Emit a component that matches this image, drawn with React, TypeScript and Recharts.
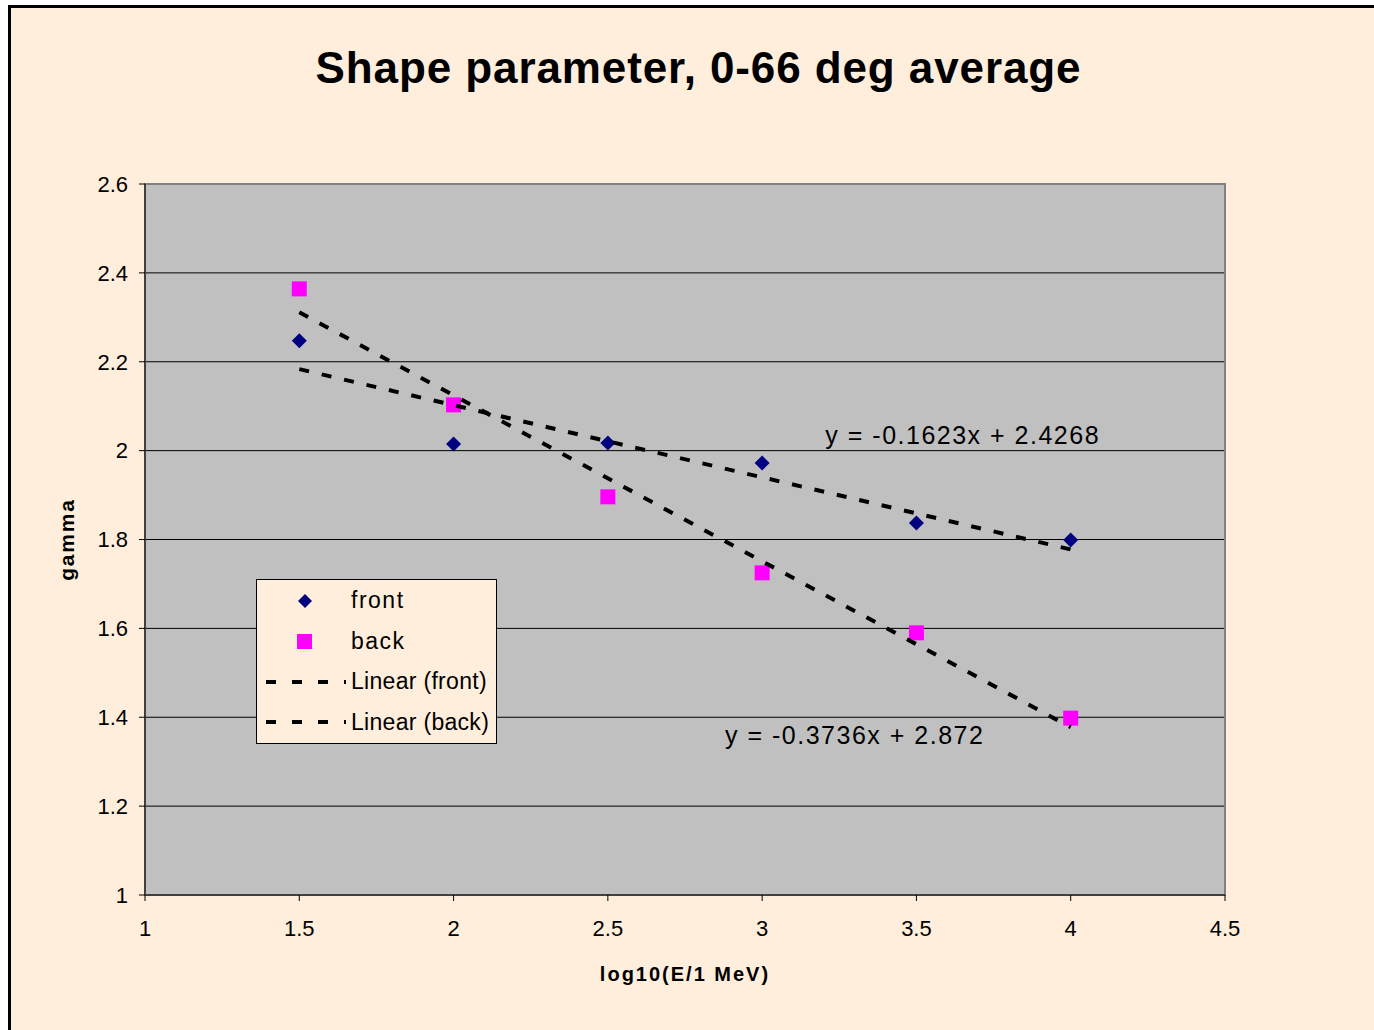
import React from "react";
import {
  ScatterChart,
  Scatter,
  XAxis,
  YAxis,
  CartesianGrid,
  ReferenceArea,
  ReferenceDot,
  Label,
} from "recharts";

// energy bins, log10(E / 1 MeV)
const energies = [1.5, 2, 2.5, 3, 3.5, 4];
const frontGamma = [2.247, 2.015, 2.017, 1.972, 1.837, 1.799];
const backGamma = [2.364, 2.103, 1.896, 1.725, 1.59, 1.398];

// linear trend end points (as drawn by the spreadsheet)
const trendX = [1.5, 4];
const frontTrendY = [2.1834, 1.7776];
const backTrendY = [2.3112, 1.3776];

const xTicks = [1, 1.5, 2, 2.5, 3, 3.5, 4, 4.5];
const yTicks = [1, 1.2, 1.4, 1.6, 1.8, 2, 2.2, 2.4, 2.6];

const frontEq = "y = -0.1623x + 2.4268";
const backEq = "y = -0.3736x + 2.872";

const frontData = energies.map((x, i) => ({ x, y: frontGamma[i] }));
const backData = energies.map((x, i) => ({ x, y: backGamma[i] }));
const frontTrend = trendX.map((x, i) => ({ x, y: frontTrendY[i] }));
const backTrend = trendX.map((x, i) => ({ x, y: backTrendY[i] }));

const FONT = "'Liberation Sans', Arial, sans-serif";
const BG = "#FEEEDB";
const NAVY = "#000080";
const MAGENTA = "#FF00FF";

const Diamond = (props: any) => {
  const { cx, cy } = props;
  if (cx == null || cy == null) return null;
  const r = 7.5;
  return (
    <polygon
      points={`${cx},${cy - r} ${cx + r},${cy} ${cx},${cy + r} ${cx - r},${cy}`}
      fill={NAVY}
    />
  );
};

const Square = (props: any) => {
  const { cx, cy } = props;
  if (cx == null || cy == null) return null;
  return <rect x={cx - 7.5} y={cy - 7.5} width={15} height={15} fill={MAGENTA} />;
};

const NoShape = () => null;

const trendLine = {
  stroke: "#000",
  strokeWidth: 4,
  strokeDasharray: "10 13",
};

export default function App() {
  return (
    <div
      style={{
        position: "absolute",
        left: 0,
        top: 0,
        width: 1374,
        height: 1030,
        overflow: "hidden",
        background: "#fff",
        fontFamily: FONT,
      }}
    >
      {/* chart frame */}
      <div
        style={{
          position: "absolute",
          left: 8,
          top: 5,
          width: 1400,
          height: 1100,
          border: "3px solid #000",
          background: BG,
        }}
      />

      <div
        style={{
          position: "absolute",
          left: 0,
          top: 43,
          width: 1397,
          textAlign: "center",
          fontSize: 44,
          fontWeight: "bold",
          letterSpacing: 0.9,
          lineHeight: "50px",
          color: "#000",
        }}
      >
        Shape parameter, 0-66 deg average
      </div>

      <div style={{ position: "absolute", left: 0, top: 0 }}>
        <ScatterChart
          width={1374}
          height={1030}
          margin={{ top: 184, right: 149, bottom: 45, left: 60 }}
        >
          <CartesianGrid
            vertical={false}
            stroke="#000"
            strokeWidth={1}
            fill="#C0C0C0"
            fillOpacity={1}
          />
          <ReferenceArea
            x1={1}
            x2={4.5}
            y1={1}
            y2={2.6}
            fill="none"
            stroke="#808080"
            strokeWidth={2}
          />
          <XAxis
            type="number"
            dataKey="x"
            domain={[1, 4.5]}
            ticks={xTicks}
            height={90}
            axisLine={{ stroke: "#404040", strokeWidth: 2 }}
            tickLine={{ stroke: "#000" }}
            tickSize={6}
            tickMargin={19}
            tick={{ fill: "#000", fontSize: 22, fontFamily: FONT }}
            allowDataOverflow
          >
            <Label
              value="log10(E/1 MeV)"
              position="insideBottom"
              offset={4}
              style={{
                fontSize: 20,
                fontWeight: "bold",
                fontFamily: FONT,
                fill: "#000",
                letterSpacing: 2,
              }}
            />
          </XAxis>
          <YAxis
            type="number"
            dataKey="y"
            domain={[1, 2.6]}
            ticks={yTicks}
            width={85}
            axisLine={{ stroke: "#404040", strokeWidth: 2 }}
            tickLine={{ stroke: "#000" }}
            tickSize={6}
            tickMargin={11}
            tick={{ fill: "#000", fontSize: 22, fontFamily: FONT }}
            allowDataOverflow
          >
            <Label
              value="gamma"
              angle={-90}
              position="insideLeft"
              offset={7}
              style={{
                textAnchor: "middle",
                fontSize: 21,
                fontWeight: "bold",
                fontFamily: FONT,
                fill: "#000",
                letterSpacing: 1.8,
              }}
            />
          </YAxis>

          <Scatter
            name="front"
            data={frontData}
            fill={NAVY}
            shape={Diamond}
            isAnimationActive={false}
          />
          <Scatter
            name="back"
            data={backData}
            fill={MAGENTA}
            shape={Square}
            isAnimationActive={false}
          />
          <Scatter
            name="Linear (front)"
            data={frontTrend}
            line={trendLine}
            shape={NoShape}
            isAnimationActive={false}
          />
          <Scatter
            name="Linear (back)"
            data={backTrend}
            line={trendLine}
            shape={NoShape}
            isAnimationActive={false}
          />

          <ReferenceDot
            x={3.65}
            y={2.035}
            r={0}
            fill="none"
            stroke="none"
            label={{
              value: frontEq,
              position: "center",
              fill: "#000",
              fontSize: 25,
              fontFamily: FONT,
              style: { letterSpacing: 1.5 },
            }}
          />
          <ReferenceDot
            x={3.3}
            y={1.36}
            r={0}
            fill="none"
            stroke="none"
            label={{
              value: backEq,
              position: "center",
              fill: "#000",
              fontSize: 25,
              fontFamily: FONT,
              style: { letterSpacing: 1.5 },
            }}
          />
        </ScatterChart>
      </div>

      {/* legend */}
      <div
        style={{
          position: "absolute",
          left: 256,
          top: 579,
          width: 239,
          height: 163,
          border: "1px solid #000",
          background: BG,
          fontSize: 23,
          color: "#000",
        }}
      >
        <svg
          width={239}
          height={163}
          style={{ position: "absolute", left: 0, top: 0 }}
        >
          <polygon points="48,14 55,21 48,28 41,21" fill={NAVY} />
          <rect x={40} y={54} width={15} height={15} fill={MAGENTA} />
          <line x1={9} y1={102} x2={89} y2={102} stroke="#000" strokeWidth={4} strokeDasharray="10 16" />
          <line x1={9} y1={142} x2={89} y2={142} stroke="#000" strokeWidth={4} strokeDasharray="10 16" />
        </svg>
        {["front", "back", "Linear (front)", "Linear (back)"].map((t, i) => (
          <div
            key={t}
            style={{
              position: "absolute",
              left: 94,
              top: 6 + i * 40.5,
              lineHeight: "28px",
              letterSpacing: i < 2 ? 1.5 : 0.3,
              whiteSpace: "nowrap",
            }}
          >
            {t}
          </div>
        ))}
      </div>
    </div>
  );
}
